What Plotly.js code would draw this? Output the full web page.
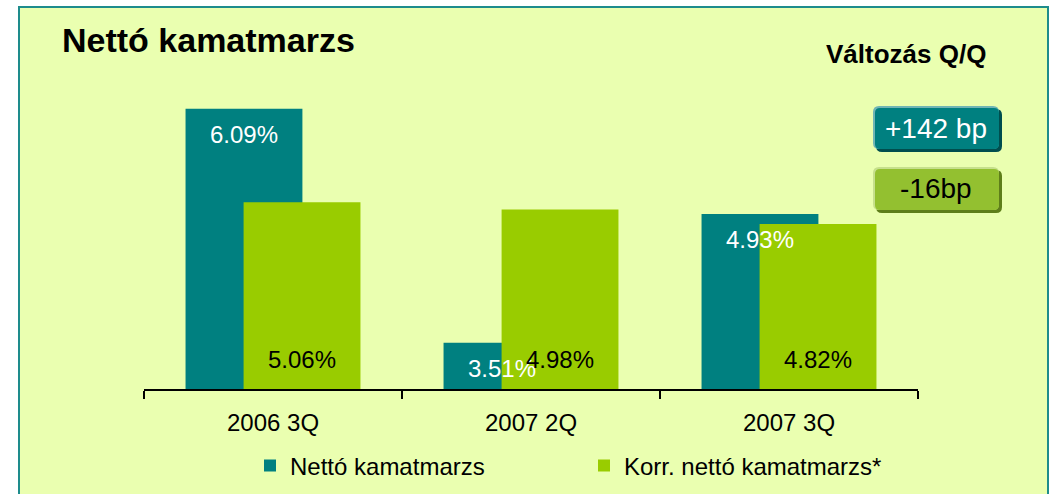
<!DOCTYPE html>
<html>
<head>
<meta charset="utf-8">
<script src="https://cdn.plot.ly/plotly-3.0.1.min.js"></script>
<style>html,body{margin:0;padding:0;background:#fff;}#chart{width:1052px;height:494px;}</style>
</head>
<body>
<div id="chart"></div>
<script>
const categories = ['2006 3Q', '2007 2Q', '2007 3Q'];
const nettoKamatmarzs = [6.09, 3.51, 4.93];
const korrNettoKamatmarzs = [5.06, 4.98, 4.82];
const seriesNames = ['Nettó kamatmarzs', 'Korr. nettó kamatmarzs*'];
const changeLabels = ['+142 bp', '-16bp'];
const chartTitle = 'Nettó kamatmarzs';
const changeTitle = 'Változás Q/Q';
const yRange = [3, 7.035];

const W = 1052, H = 494;
const M = {l: 144, r: 134, t: 23, b: 105, autoexpand: false};
const plotW = W - M.l - M.r, plotH = H - M.t - M.b;
const px = x => (x - M.l) / plotW;
const py = y => (H - M.b - y) / plotH;
const FONT = 'Liberation Sans, Arial, sans-serif';
const TEAL = '#008080', GREEN = '#99CC00';
const barWidth = 0.453, tealOffset = -0.339, greenOffset = -0.114;
const pxPerCat = plotW / categories.length;
const fmt = v => v.toFixed(2) + '%';

function roundRect(x0, y0, x1, y1, r) {
  const P = (x, y) => px(x) + ',' + py(y);
  return 'M' + P(x0 + r, y0) + ' L' + P(x1 - r, y0) + ' Q' + P(x1, y0) + ' ' + P(x1, y0 + r) +
    ' L' + P(x1, y1 - r) + ' Q' + P(x1, y1) + ' ' + P(x1 - r, y1) +
    ' L' + P(x0 + r, y1) + ' Q' + P(x0, y1) + ' ' + P(x0, y1 - r) +
    ' L' + P(x0, y0 + r) + ' Q' + P(x0, y0) + ' ' + P(x0 + r, y0) + ' Z';
}
function bevelBox(x0, y0, x1, y1, light, main, dark) {
  return [
    {type: 'path', xref: 'paper', yref: 'paper', path: roundRect(x0 + 3, y0 + 3, x1, y1, 6), fillcolor: dark, line: {width: 0}, layer: 'above'},
    {type: 'path', xref: 'paper', yref: 'paper', path: roundRect(x0, y0, x1 - 3, y1 - 3, 6), fillcolor: light, line: {width: 0}, layer: 'above'},
    {type: 'path', xref: 'paper', yref: 'paper', path: roundRect(x0 + 2, y0 + 2, x1 - 3, y1 - 3, 5), fillcolor: main, line: {width: 0}, layer: 'above'}
  ];
}

const traces = [
  {type: 'bar', name: seriesNames[0], x: categories, y: nettoKamatmarzs, offset: tealOffset, width: barWidth,
   marker: {color: TEAL}, hoverinfo: 'skip'},
  {type: 'bar', name: seriesNames[1], x: categories, y: korrNettoKamatmarzs, offset: greenOffset, width: barWidth,
   marker: {color: GREEN}, hoverinfo: 'skip'}
];

const annotations = [];
categories.forEach((c, i) => {
  annotations.push({x: c, y: nettoKamatmarzs[i], xref: 'x', yref: 'y', text: fmt(nettoKamatmarzs[i]),
    showarrow: false, xshift: (tealOffset + barWidth / 2) * pxPerCat, yanchor: 'top', yshift: -10,
    font: {family: FONT, size: 24, color: '#ffffff'}});
  annotations.push({x: c, y: yRange[0], xref: 'x', yref: 'y', text: fmt(korrNettoKamatmarzs[i]),
    showarrow: false, xshift: (greenOffset + barWidth / 2) * pxPerCat, yanchor: 'bottom', yshift: 14,
    font: {family: FONT, size: 24, color: '#000000'}});
});
annotations.push({xref: 'paper', yref: 'paper', x: px(906), y: py(54), text: '<b>' + changeTitle + '</b>',
  showarrow: false, xanchor: 'center', yanchor: 'middle', font: {family: FONT, size: 26, color: '#000'}});
annotations.push({xref: 'paper', yref: 'paper', x: px(936), y: py(128), text: changeLabels[0],
  showarrow: false, xanchor: 'center', yanchor: 'middle', font: {family: FONT, size: 28, color: '#fff'}});
annotations.push({xref: 'paper', yref: 'paper', x: px(936), y: py(189), text: changeLabels[1],
  showarrow: false, xanchor: 'center', yanchor: 'middle', font: {family: FONT, size: 28, color: '#000'}});

const shapes = [
  {type: 'rect', xref: 'paper', yref: 'paper', x0: px(19), x1: px(1048), y0: py(520), y1: py(7),
   fillcolor: '#EAFFB0', line: {color: '#1E8C8C', width: 2}, layer: 'below'}
].concat(
  bevelBox(873, 106, 1002, 152, '#6FB5B5', TEAL, '#004E4E'),
  bevelBox(873, 167, 1002, 213, '#C6E08C', '#93C030', '#5E7E1A')
);

const layout = {
  width: W, height: H,
  margin: M,
  paper_bgcolor: '#ffffff', plot_bgcolor: 'rgba(0,0,0,0)',
  barmode: 'overlay',
  title: {text: '<b>' + chartTitle + '</b>', xref: 'container', yref: 'container', x: 62 / W, xanchor: 'left',
    y: 1 - 40 / H, yanchor: 'middle', font: {family: FONT, size: 34, color: '#000'}},
  xaxis: {type: 'category', range: [-0.5, 2.5], showline: true, linecolor: '#000', linewidth: 2,
    ticks: 'outside', tickson: 'boundaries', ticklen: 8, tickwidth: 2, tickcolor: '#000', ticklabelstandoff: 11,
    tickfont: {family: FONT, size: 24, color: '#000'}, showgrid: false, zeroline: false, fixedrange: true},
  yaxis: {range: yRange, visible: false, fixedrange: true},
  showlegend: true,
  legend: {orientation: 'h', x: px(250), xanchor: 'left', y: py(466), yanchor: 'middle',
    font: {family: FONT, size: 24, color: '#000'}, bgcolor: 'rgba(0,0,0,0)',
    entrywidth: 289, entrywidthmode: 'pixels', traceorder: 'normal'},
  shapes: shapes,
  annotations: annotations
};

Plotly.newPlot('chart', traces, layout, {displayModeBar: false, staticPlot: true});
</script>
</body>
</html>
